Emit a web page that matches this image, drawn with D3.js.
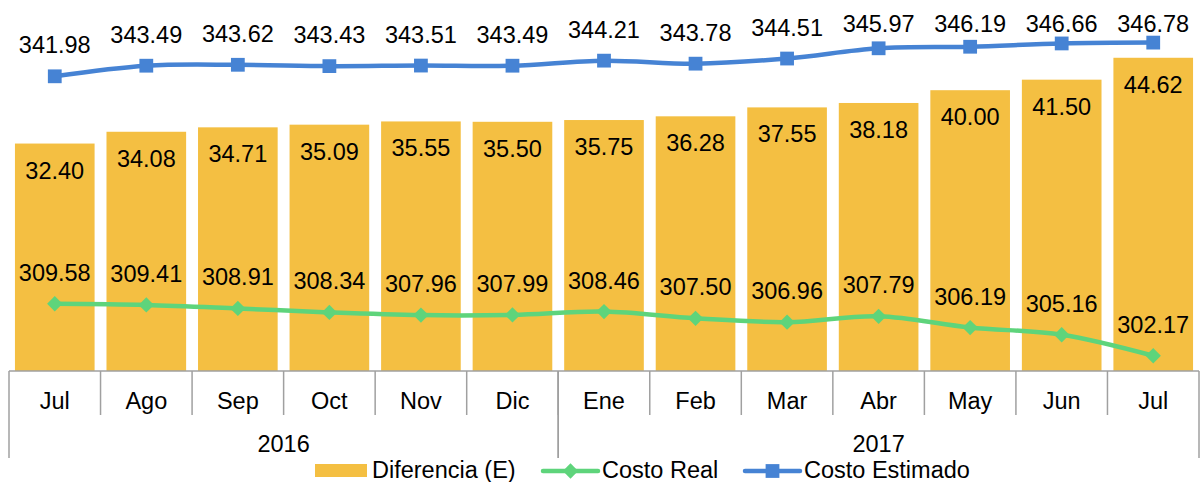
<!DOCTYPE html>
<html>
<head>
<meta charset="utf-8">
<script src="https://d3js.org/d3.v7.min.js"></script>
<style>
  body { margin: 0; background: #fff; }
  text { font-family: "Liberation Sans", Arial, sans-serif; fill: #000; }
</style>
</head>
<body>
<script>
// data
let months = ["Jul", "Ago", "Sep", "Oct", "Nov", "Dic", "Ene", "Feb", "Mar", "Abr", "May", "Jun", "Jul"];
let years = [{ label: "2016", from: 0, to: 6 }, { label: "2017", from: 6, to: 13 }];
let diferencia = [32.40, 34.08, 34.71, 35.09, 35.55, 35.50, 35.75, 36.28, 37.55, 38.18, 40.00, 41.50, 44.62];
let costoReal = [309.58, 309.41, 308.91, 308.34, 307.96, 307.99, 308.46, 307.50, 306.96, 307.79, 306.19, 305.16, 302.17];
let costoEstimado = [341.98, 343.49, 343.62, 343.43, 343.51, 343.49, 344.21, 343.78, 344.51, 345.97, 346.19, 346.66, 346.78];

let width = 1201, height = 482;
let fs = "23.5px";
let orange = "#F4BF42", green = "#5ED47B", blue = "#4683D4", grey = "#A0A0A0";

let svg = d3.select("body").append("svg")
  .attr("width", width).attr("height", height);

let plotLeft = 9, plotRight = 1199, base = 371, plotTop = 20;

let x = d3.scaleBand()
  .domain(d3.range(months.length))
  .range([plotLeft, plotRight])
  .paddingInner(0.13).paddingOuter(0.065);

let step = x.step();
let cx = i => x(i) + x.bandwidth() / 2;

// bars use left axis 0..50, lines the right one 300..350
let yBar = d3.scaleLinear().domain([0, 50]).range([base, plotTop]);
let yLine = d3.scaleLinear().domain([300, 350]).range([base, plotTop]);

// bars
svg.append("g").selectAll("rect")
  .data(diferencia)
  .join("rect")
  .attr("x", (d, i) => x(i))
  .attr("y", d => yBar(d))
  .attr("width", x.bandwidth())
  .attr("height", d => base - yBar(d))
  .attr("fill", orange);

svg.append("g").selectAll("text")
  .data(diferencia)
  .join("text")
  .attr("x", (d, i) => cx(i))
  .attr("y", d => yBar(d) + 35)
  .attr("text-anchor", "middle")
  .style("font-size", fs)
  .text(d => d.toFixed(2));

// category axis
let ax = svg.append("g").attr("stroke", grey).attr("stroke-width", 1.5).attr("fill", "none");
ax.append("line").attr("x1", plotLeft).attr("x2", plotRight).attr("y1", base).attr("y2", base);
for (let i = 1; i < months.length; i++) {
  let xx = plotLeft + step * i;
  ax.append("line").attr("x1", xx).attr("x2", xx).attr("y1", base).attr("y2", 415);
}
years.forEach(yr => {
  [yr.from, yr.to].forEach(k => {
    let xx = plotLeft + step * k;
    ax.append("line").attr("x1", xx).attr("x2", xx).attr("y1", base).attr("y2", 458);
  });
});

svg.append("g").selectAll("text")
  .data(months)
  .join("text")
  .attr("x", (d, i) => plotLeft + step * (i + 0.5))
  .attr("y", 409)
  .attr("text-anchor", "middle")
  .style("font-size", fs)
  .text(d => d);

svg.append("g").selectAll("text")
  .data(years)
  .join("text")
  .attr("x", d => plotLeft + step * (d.from + d.to) / 2)
  .attr("y", 452)
  .attr("text-anchor", "middle")
  .style("font-size", fs)
  .text(d => d.label);

// lines
function drawLine(vals, color, shape, size) {
  let line = d3.line()
    .x((d, i) => cx(i))
    .y(d => yLine(d))
    .curve(d3.curveCatmullRom.alpha(0.5));

  svg.append("path")
    .datum(vals)
    .attr("d", line)
    .attr("fill", "none")
    .attr("stroke", color)
    .attr("stroke-width", 4.5);

  svg.append("g").selectAll("path")
    .data(vals)
    .join("path")
    .attr("transform", (d, i) => `translate(${cx(i)},${yLine(d)})`)
    .attr("d", d3.symbol().type(shape).size(size))
    .attr("fill", color);

  // labels sit above the point but stay inside the top of the chart
  svg.append("g").selectAll("text")
    .data(vals)
    .join("text")
    .attr("x", (d, i) => cx(i))
    .attr("y", d => Math.max(yLine(d) - 23, 32))
    .attr("text-anchor", "middle")
    .style("font-size", fs)
    .text(d => d.toFixed(2));
}

drawLine(costoReal, green, d3.symbolDiamond2, 150);
drawLine(costoEstimado, blue, d3.symbolSquare, 190);

// legend
let lg = svg.append("g");
lg.append("rect").attr("x", 315).attr("y", 464).attr("width", 52).attr("height", 13).attr("fill", orange);
lg.append("text").attr("x", 372).attr("y", 478).style("font-size", fs).text("Diferencia (E)");

[[543, green, d3.symbolDiamond2, 150, "Costo Real"], [745, blue, d3.symbolSquare, 190, "Costo Estimado"]]
  .forEach(([lx, color, shape, size, label]) => {
    lg.append("line").attr("x1", lx).attr("x2", lx + 55).attr("y1", 471).attr("y2", 471)
      .attr("stroke", color).attr("stroke-width", 4.5).attr("stroke-linecap", "round");
    lg.append("path").attr("transform", `translate(${lx + 27.5},471)`)
      .attr("d", d3.symbol().type(shape).size(size)).attr("fill", color);
    lg.append("text").attr("x", lx + 59).attr("y", 478).style("font-size", fs).text(label);
  });
</script>
</body>
</html>
